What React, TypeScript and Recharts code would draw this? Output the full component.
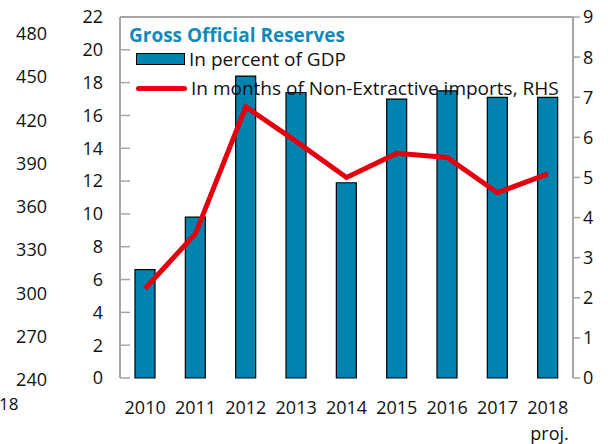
import React from 'react';
import { ComposedChart, Bar, Line, XAxis, YAxis, Legend, ReferenceLine } from 'recharts';

const FONT = '"Open Sans", "Noto Sans", sans-serif';

const years = ['2010', '2011', '2012', '2013', '2014', '2015', '2016', '2017', '2018'];
const pctOfGdp = [6.6, 9.8, 18.4, 17.4, 11.9, 17.0, 17.5, 17.1, 17.1];
const monthsOfImports = [2.23, 3.6, 6.76, 5.9, 5.0, 5.6, 5.5, 4.62, 5.09];
const leftTicks = [0, 2, 4, 6, 8, 10, 12, 14, 16, 18, 20, 22];
const rightTicks = [0, 1, 2, 3, 4, 5, 6, 7, 8, 9];
const boundaryTicks = [0, 1, 2, 3, 4, 5, 6, 7, 8, 9];
// labels left over from the neighbouring panel, cropped into the picture
const ghostTicks = [480, 450, 420, 390, 360, 330, 300, 270, 240];

const data = years.map((year, i) => ({
  year,
  slot: i + 0.5,
  pct: pctOfGdp[i],
  months: monthsOfImports[i],
}));

const AXIS = '#a6a6a6';
const BLUE = '#0083af';
const RED = '#e3000f';
const INK = '#111';

const YearTick = ({ x, y, payload }: any) => (
  <g>
    <text x={x} y={y + 36} textAnchor="middle" fontSize={18} fill={INK} fontFamily={FONT}>
      {payload.value}
    </text>
    {payload.value === '2018' && (
      <text x={x + 21} y={y + 62} textAnchor="end" fontSize={18} fill={INK} fontFamily={FONT}>
        proj.
      </text>
    )}
  </g>
);

const renderLegend = (props: any) => {
  const raw = props.payload || [];
  const items = [...raw.filter((it: any) => it.type !== 'line'), ...raw.filter((it: any) => it.type === 'line')];
  return (
    <div style={{ fontFamily: FONT, color: INK, fontSize: 19 }}>
      <div style={{ color: '#1389ba', fontWeight: 700, fontSize: 19, lineHeight: '24px' }}>
        Gross Official Reserves
      </div>
      {items.map((it: any, i: number) => (
        <div
          key={i}
          style={{ display: 'flex', alignItems: 'center', height: 24, marginTop: i === 0 ? 0 : 5, marginLeft: 7 }}
        >
          {it.type === 'line' ? (
            <span style={{ display: 'inline-block', width: 51, height: 5, background: RED, borderRadius: 3 }} />
          ) : (
            <span
              style={{
                display: 'inline-block',
                width: 47,
                height: 10,
                background: BLUE,
                border: '1.5px solid #000',
              }}
            />
          )}
          <span style={{ marginLeft: 4 }}>{it.value}</span>
        </div>
      ))}
    </div>
  );
};

export default function App() {
  return (
    <div style={{ position: 'absolute', left: 0, top: 0, width: 608, height: 444 }}>
      <ComposedChart width={608} height={444} data={data} margin={{ top: 17, right: 0, bottom: 0, left: 0 }}>
        <XAxis
          xAxisId="grid"
          type="number"
          dataKey="slot"
          domain={[0, 9]}
          ticks={boundaryTicks}
          height={0}
          tick={false}
          tickSize={-6}
          tickLine={{ stroke: AXIS, strokeWidth: 1.5 }}
          axisLine={{ stroke: AXIS, strokeWidth: 2 }}
        />
        <XAxis
          xAxisId="cat"
          dataKey="year"
          height={66}
          tickLine={false}
          axisLine={false}
          tickSize={0}
          tickMargin={0}
          interval={0}
          tick={<YearTick />}
        />
        <YAxis
          yAxisId="left"
          orientation="left"
          width={120}
          domain={[0, 22]}
          ticks={leftTicks}
          interval={0}
          tickSize={-10}
          tickMargin={27}
          tickLine={{ stroke: AXIS, strokeWidth: 1.5 }}
          axisLine={{ stroke: AXIS, strokeWidth: 2 }}
          tick={{ fontSize: 18, fill: INK, fontFamily: FONT }}
        />
        <YAxis
          yAxisId="right"
          orientation="right"
          width={35}
          domain={[0, 9]}
          ticks={rightTicks}
          interval={0}
          tickSize={7}
          tickMargin={3}
          tickLine={{ stroke: AXIS, strokeWidth: 1.5 }}
          axisLine={{ stroke: AXIS, strokeWidth: 2 }}
          tick={{ fontSize: 18, fill: INK, fontFamily: FONT, textAnchor: 'start' }}
        />
        <ReferenceLine yAxisId="left" xAxisId="cat" y={22} stroke={AXIS} strokeWidth={2} />
        <Legend
          layout="vertical"
          align="center"
          verticalAlign="middle"
          content={renderLegend}
          wrapperStyle={{ top: 23, left: 129, width: 470 }}
        />
        <Bar
          xAxisId="cat"
          yAxisId="left"
          dataKey="pct"
          name="In percent of GDP"
          fill={BLUE}
          stroke="#000"
          strokeWidth={1.2}
          barSize={20}
          isAnimationActive={false}
        />
        <Line
          xAxisId="cat"
          yAxisId="right"
          dataKey="months"
          name="In months of Non-Extractive imports, RHS"
          type="linear"
          stroke={RED}
          strokeWidth={5}
          dot={false}
          legendType="line"
          isAnimationActive={false}
        />
      </ComposedChart>
      <div
        style={{
          position: 'absolute',
          left: 0,
          top: 20,
          width: 47,
          display: 'flex',
          flexDirection: 'column',
          alignItems: 'flex-end',
          fontFamily: FONT,
          fontSize: 18,
          color: INK,
        }}
      >
        {ghostTicks.map((v) => (
          <div key={v} style={{ height: 43.3, lineHeight: '26px' }}>
            {v}
          </div>
        ))}
      </div>
      <span
        style={{ position: 'absolute', left: -1, top: 392, fontFamily: FONT, fontSize: 17, color: INK }}
      >
        18
      </span>
    </div>
  );
}
